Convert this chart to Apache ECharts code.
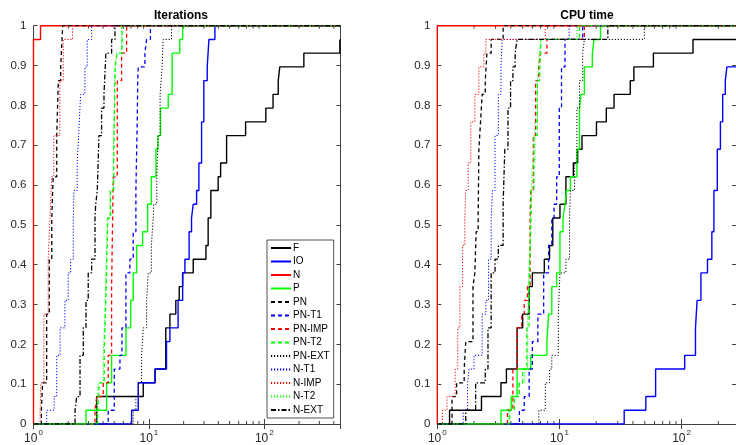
<!DOCTYPE html>
<html>
<head>
<meta charset="utf-8">
<script src="https://cdn.jsdelivr.net/npm/echarts@6/dist/echarts.min.js"></script>
<style>
html, body { margin: 0; padding: 0; background: #fff; }
#main { width: 736px; height: 445px; }
</style>
</head>
<body>
<div id="main"></div>
<script>
// performance profiles, 29 test problems
// each entry: [performance ratio, number of problems solved within that ratio]
var nProb = 29;
var solverNames = ['F', 'IO', 'N', 'P', 'PN', 'PN-T1', 'PN-IMP', 'PN-T2', 'PN-EXT', 'N-T1', 'N-IMP', 'N-T2', 'N-EXT'];

// --- Iterations ---
var iterF = [[3.53,2],[8.93,3],[11.3,4],[14.0,7],[15.2,8],[17.1,9],[18.3,10],[19.6,11],[24.2,12],[31.2,13],[32.6,15],[34.4,17],[39.8,18],[41.8,19],[47.1,21],[68.8,22],[103,23],[119,24],[132,25],[136,26],[220,27],[451,28]];
var iterIO = [[7.08,1],[8.08,3],[11.3,4],[14.2,6],[15.2,7],[17.9,9],[19.6,11],[20.5,12],[22.3,14],[23.4,15],[24.2,16],[25.9,17],[27.1,19],[28.6,22],[29.9,25],[32.0,26],[33.1,28],[37.3,29]];
var iterN = [[1,28],[1.15,29]];
var iterP = [[2.85,1],[4.30,3],[4.75,5],[6.32,7],[6.95,9],[7.31,11],[7.83,13],[8.82,14],[9.75,16],[10.5,18],[11.5,20],[12.0,21],[12.6,23],[14.7,24],[15.9,27],[18.5,28],[19.6,29]];
var iterPN = [[1.17,1],[1.20,3],[1.30,8],[1.37,12],[1.44,15],[1.48,18],[1.59,21],[1.64,25],[1.72,26],[1.79,29]];
var iterPNT1 = [[4.44,1],[5.01,4],[5.61,5],[5.84,7],[6.32,11],[6.84,12],[7.31,14],[7.71,17],[7.92,22],[8.0,25],[8.08,26],[9.23,27],[9.55,28],[10.3,29]];
var iterPNIMP = [[3.41,1],[3.53,2],[4.02,3],[4.44,5],[4.75,10],[4.85,15],[4.91,18],[5.32,25],[5.80,27],[6.41,29]];
var iterPNT2 = [[3.6,1],[3.72,3],[4.1,5],[4.2,8],[4.3,11],[4.4,15],[4.65,17],[4.95,19],[5.1,26],[5.3,27],[5.85,29]];
var iterPNEXT = [[7.31,1],[7.71,2],[8.08,3],[8.64,5],[8.93,7],[9.55,9],[9.86,11],[10.5,13],[10.9,15],[11.0,16],[11.7,18],[12.0,21],[12.5,24],[13.0,26],[13.3,28],[15.7,29]];
var iterNT1 = [[1.30,1],[1.51,2],[1.59,5],[1.70,7],[1.87,9],[2.00,11],[2.10,12],[2.21,15],[2.24,17],[2.39,19],[2.46,21],[2.56,24],[2.79,26],[2.92,28],[3.19,29]];
var iterNIMP = [[1.14,1],[1.16,3],[1.23,8],[1.34,12],[1.39,15],[1.44,18],[1.50,21],[1.69,25],[1.81,28],[2.18,29]];
var iterNT2 = [[3.5,1],[3.64,3],[4.02,5],[4.16,8],[4.24,11],[4.36,15],[4.60,17],[4.91,19],[5.08,26],[5.25,27],[5.80,29]];
var iterNEXT = [[2.29,1],[2.37,2],[2.53,5],[2.70,7],[2.85,9],[2.98,11],[3.19,12],[3.41,15],[3.46,16],[3.57,17],[3.69,21],[3.89,23],[4.08,24],[4.24,27],[4.75,28],[5.08,29]];

// --- CPU time ---
var cpuF = [[1.26,1],[2.30,2],[3.32,3],[3.68,4],[4.50,7],[5.00,8],[5.65,10],[6.00,11],[7.52,12],[8.30,13],[8.82,15],[10.1,16],[11.3,18],[13.0,19],[14.1,20],[15.3,21],[20.1,22],[24.2,23],[28.0,24],[38.0,25],[40.7,26],[58.8,27],[124,28],[320,29]];
var cpuIO = [[33.9,1],[51.0,2],[61.3,4],[106,5],[130,7],[134,9],[144,11],[163,12],[177,14],[184,17],[196,20],[208,22],[217,24],[228,25],[235,26],[300,29]];
var cpuN = [[1,29]];
var cpuP = [[3.32,1],[4.03,2],[4.50,4],[5.82,5],[7.90,6],[8.15,8],[8.66,10],[9.49,11],[10.1,14],[10.7,15],[11.1,16],[11.4,17],[12.3,18],[13.9,20],[14.6,23],[15.0,24],[16.0,26],[18.6,27],[19.2,28],[21.7,29]];
var cpuPN = [[1.32,2],[1.44,3],[1.66,4],[1.71,6],[1.96,10],[2.03,11],[2.08,14],[2.16,15],[2.19,20],[2.26,22],[2.33,24],[2.47,25],[2.55,27],[2.76,28],[3.46,29]];
var cpuPNT1 = [[4.70,1],[5.15,2],[5.65,4],[6.00,6],[6.66,8],[7.43,11],[8.15,13],[8.66,15],[9.04,16],[9.49,18],[9.97,23],[10.4,26],[11.1,28],[15.5,29]];
var cpuPNIMP = [[3.75,1],[4.16,4],[4.50,7],[4.91,8],[5.15,9],[5.47,10],[5.75,15],[5.82,17],[6.11,21],[6.38,25],[6.78,26],[6.99,27],[7.90,28],[16.0,29]];
var cpuPNT2 = [[3.91,1],[4.28,2],[4.70,3],[5.00,4],[5.41,7],[5.65,11],[5.82,14],[5.89,17],[6.18,21],[6.58,25],[6.90,26],[7.08,28],[14.6,29]];
var cpuPNEXT = [[6.78,1],[7.66,3],[8.30,4],[8.66,5],[9.79,8],[10.1,11],[11.3,12],[12.1,15],[12.3,17],[13.3,19],[13.9,23],[14.6,25],[15.5,27],[16.0,28],[49.5,29]];
var cpuNT1 = [[1.63,1],[1.77,3],[1.82,4],[2.00,5],[2.33,8],[2.50,9],[2.63,12],[2.76,15],[2.83,17],[2.97,21],[3.16,24],[3.32,26],[3.40,28],[12.0,29]];
var cpuNIMP = [[1.10,1],[1.20,2],[1.40,4],[1.47,7],[1.53,10],[1.61,13],[1.68,15],[1.71,17],[1.79,19],[1.88,22],[2.03,24],[2.19,26],[2.40,27],[2.50,28],[7.66,29]];
var cpuNT2 = [[3.85,1],[4.10,2],[4.60,3],[5.20,4],[5.50,8],[5.70,12],[5.85,16],[6.0,19],[6.3,22],[6.6,25],[6.85,27],[7.0,28],[13.9,29]];
var cpuNEXT = [[1.71,1],[2.06,3],[2.47,4],[2.60,7],[2.76,11],[2.97,12],[3.16,13],[3.46,16],[3.57,20],[3.79,23],[3.98,25],[4.16,26],[4.34,27],[4.50,28],[24.9,29]];

var iterData = [iterF, iterIO, iterN, iterP, iterPN, iterPNT1, iterPNIMP, iterPNT2, iterPNEXT, iterNT1, iterNIMP, iterNT2, iterNEXT];
var cpuData = [cpuF, cpuIO, cpuN, cpuP, cpuPN, cpuPNT1, cpuPNIMP, cpuPNT2, cpuPNEXT, cpuNT1, cpuNIMP, cpuNT2, cpuNEXT];
var panelTitles = ['Iterations', 'CPU time'];
var xMax = [457, 279];

var FONT = '"Liberation Sans", Arial, sans-serif';
var AX = '#404040';
var colors = ['#000000', '#0000ff', '#ff0000', '#00ff00'];
var dashes = ['solid', 'solid', 'solid', 'solid',
              [4, 3], [4, 3], [4, 3], [4, 3],
              [1.2, 1.8], [1.2, 1.8], [1.2, 1.8], [1.2, 1.8],
              [5, 2, 1.5, 2]];
var widths = [1.4, 1.4, 1.4, 1.4, 1.3, 1.3, 1.3, 1.3, 1, 1, 1, 1, 1.3];

var myChart = echarts.init(document.getElementById('main'), null, {renderer: 'canvas'});

function stepData(pts, xmax) {
    var d = [[1, 0]];
    pts.forEach(function (p) { d.push([p[0], p[1] / nProb]); });
    var last = pts[pts.length - 1];
    d.push([Math.max(xmax, last[0]), last[1] / nProb]);
    return d;
}

function minorTicks(xmax) {
    var out = [];
    for (var dec = 1; dec < xmax; dec *= 10) {
        for (var m = 2; m <= 9; m++) {
            if (m * dec < xmax) out.push([m * dec, 0]);
        }
    }
    return out;
}

function logLabel(v) {
    var e = Math.round(Math.log(v) / Math.LN10);
    if (Math.abs(Math.pow(10, e) - v) > 1e-6 * v) return '';
    return '{b|10}{s|' + e + '}';
}

var grids = [
    {left: 33.5, top: 25.7, width: 307, height: 400},
    {left: 437.3, top: 25.7, width: 307, height: 400}
];

var xAxes = [], yAxes = [], series = [], graphics = [];
[0, 1].forEach(function (g) {
    xAxes.push({
        type: 'log', logBase: 10, gridIndex: g, min: 1, max: xMax[g],
        axisLine: {show: true, lineStyle: {color: AX, width: 1}},
        axisTick: {show: true, inside: true, length: 5, lineStyle: {color: AX}},
        splitLine: {show: false},
        axisLabel: {
            margin: 5, formatter: logLabel, showMaxLabel: false,
            rich: {
                b: {fontSize: 12, fontFamily: FONT, color: '#262626', lineHeight: 16, verticalAlign: 'bottom'},
                s: {fontSize: 8, fontFamily: FONT, color: '#262626', lineHeight: 8, verticalAlign: 'top', padding: [0, 0, 0, 1]}
            }
        }
    });
    xAxes.push({
        type: 'log', logBase: 10, gridIndex: g, min: 1, max: xMax[g], position: 'top',
        axisLine: {show: true, lineStyle: {color: AX, width: 1}},
        axisTick: {show: true, inside: true, length: 5, lineStyle: {color: AX}},
        splitLine: {show: false},
        axisLabel: {show: false}
    });
    yAxes.push({
        type: 'value', gridIndex: g, min: 0, max: 1, interval: 0.1,
        axisLine: {show: true, lineStyle: {color: AX, width: 1}},
        axisTick: {show: true, inside: true, length: 4, lineStyle: {color: AX}},
        splitLine: {show: false},
        axisLabel: {margin: 7, fontSize: 11.5, fontFamily: FONT, color: '#262626'}
    });
    yAxes.push({
        type: 'value', gridIndex: g, min: 0, max: 1, interval: 0.1, position: 'right',
        axisLine: {show: true, lineStyle: {color: AX, width: 1}},
        axisTick: {show: true, inside: true, length: 4, lineStyle: {color: AX}},
        splitLine: {show: false},
        axisLabel: {show: false}
    });

    // minor log ticks, top and bottom
    series.push({
        type: 'custom', xAxisIndex: g * 2, yAxisIndex: g * 2, silent: true,
        data: minorTicks(xMax[g]),
        renderItem: function (params, api) {
            var v = api.value(0);
            var b = api.coord([v, 0]);
            var t = api.coord([v, 1]);
            return {
                type: 'group',
                children: [
                    {type: 'line', shape: {x1: b[0], y1: b[1], x2: b[0], y2: b[1] - 3}, style: {stroke: AX, lineWidth: 1}},
                    {type: 'line', shape: {x1: t[0], y1: t[1], x2: t[0], y2: t[1] + 3}, style: {stroke: AX, lineWidth: 1}}
                ]
            };
        }
    });

    var panel = g === 0 ? iterData : cpuData;
    solverNames.forEach(function (name, i) {
        series.push({
            name: name,
            type: 'line',
            xAxisIndex: g * 2,
            yAxisIndex: g * 2,
            step: 'end',
            symbol: 'none',
            showSymbol: false,
            data: stepData(panel[i], xMax[g]),
            lineStyle: {color: colors[i % 4], width: widths[i], type: dashes[i]},
            itemStyle: {color: colors[i % 4]},
            emphasis: {disabled: true}
        });
    });

    graphics.push({
        type: 'text',
        x: g === 0 ? 181 : 587,
        y: 16,
        style: {
            text: panelTitles[g], align: 'center', verticalAlign: 'middle',
            font: 'bold 12px ' + FONT, fill: '#000'
        }
    });
});

var option = {
    animation: false,
    backgroundColor: '#fff',
    grid: grids,
    xAxis: xAxes,
    yAxis: yAxes,
    series: series,
    graphic: graphics,
    legend: {
        data: solverNames,
        orient: 'vertical',
        left: 267,
        top: 240,
        itemWidth: 20,
        itemHeight: 10,
        itemGap: 3.5,
        padding: [3, 4, 3, 3],
        backgroundColor: '#fff',
        borderColor: '#262626',
        borderWidth: 0.8,
        borderRadius: 0,
        selectedMode: false,
        itemStyle: {opacity: 0},
        textStyle: {fontSize: 10, fontFamily: FONT, color: '#000', padding: [0, 0, 0, -3]}
    }
};

myChart.setOption(option);
</script>
</body>
</html>
